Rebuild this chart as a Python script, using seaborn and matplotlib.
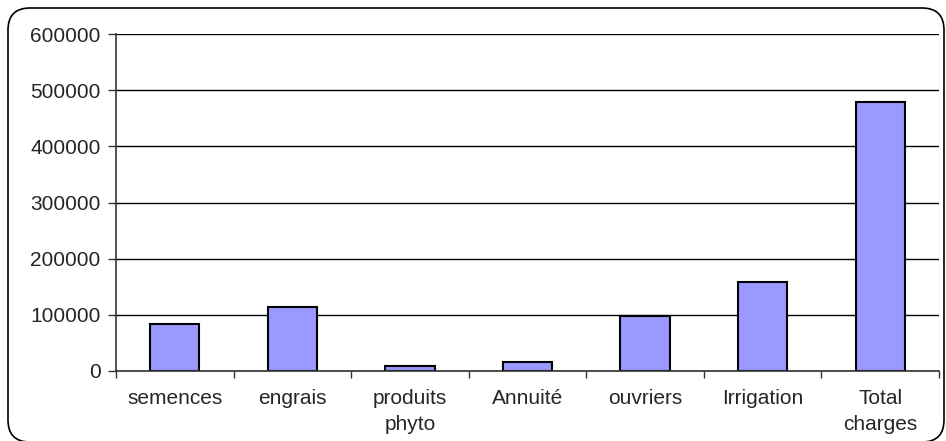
import pandas as pd
import matplotlib.pyplot as plt
import numpy as np
import seaborn as sns
from matplotlib.patches import FancyBboxPatch

categories = ["semences", "engrais", "produits\nphyto", "Annuité", "ouvriers", "Irrigation", "Total\ncharges"]
values = [83000, 114000, 9500, 16000, 98000, 159000, 479000]

data = pd.DataFrame({"poste": categories, "montant": values})

sns.set_style("white")
plt.rcParams['font.family'] = ['Liberation Sans', 'DejaVu Sans']

fig = plt.figure(figsize=(9.46, 4.41), dpi=100)
ax = fig.add_axes([116 / 946, 1 - 371 / 441, 823 / 946, 337 / 441])

# outer chart frame with rounded corners (inches)
frame = FancyBboxPatch((0.08, -0.01), 9.36, 4.34,
                       boxstyle="round,pad=0,rounding_size=0.22",
                       transform=fig.dpi_scale_trans, facecolor="none",
                       edgecolor="black", linewidth=1.2, clip_on=False)
fig.patches.append(frame)

sns.barplot(data=data, x="poste", y="montant", color="#9999ff",
            edgecolor="black", linewidth=1.5, width=0.42, saturation=1, ax=ax)

ax.set_ylim(0, 600000)
ax.set_xlim(-0.5, len(categories) - 0.5)
ax.set_yticks(np.arange(0, 600001, 100000))
ax.set_yticklabels([str(v) for v in range(0, 600001, 100000)])
ax.set_xlabel("")
ax.set_ylabel("")
ax.yaxis.grid(True, color="black", linewidth=1)
ax.set_axisbelow(True)

for s in ["left", "bottom"]:
    ax.spines[s].set_color("#333333")
    ax.spines[s].set_linewidth(1.2)
for s in ["top", "right"]:
    ax.spines[s].set_visible(False)

ax.tick_params(axis="y", which="major", length=6, width=1, color="#333333",
               labelsize=15, pad=5, left=True)
ax.tick_params(axis="x", which="major", length=0, labelsize=15, pad=13)
ax.set_xticks(np.arange(-0.5, len(categories), 1), minor=True)
ax.tick_params(axis="x", which="minor", length=5, width=1, color="#333333", bottom=True)
ax.set_xticklabels(categories, linespacing=1.45)

plt.savefig("out.png", dpi=100)
